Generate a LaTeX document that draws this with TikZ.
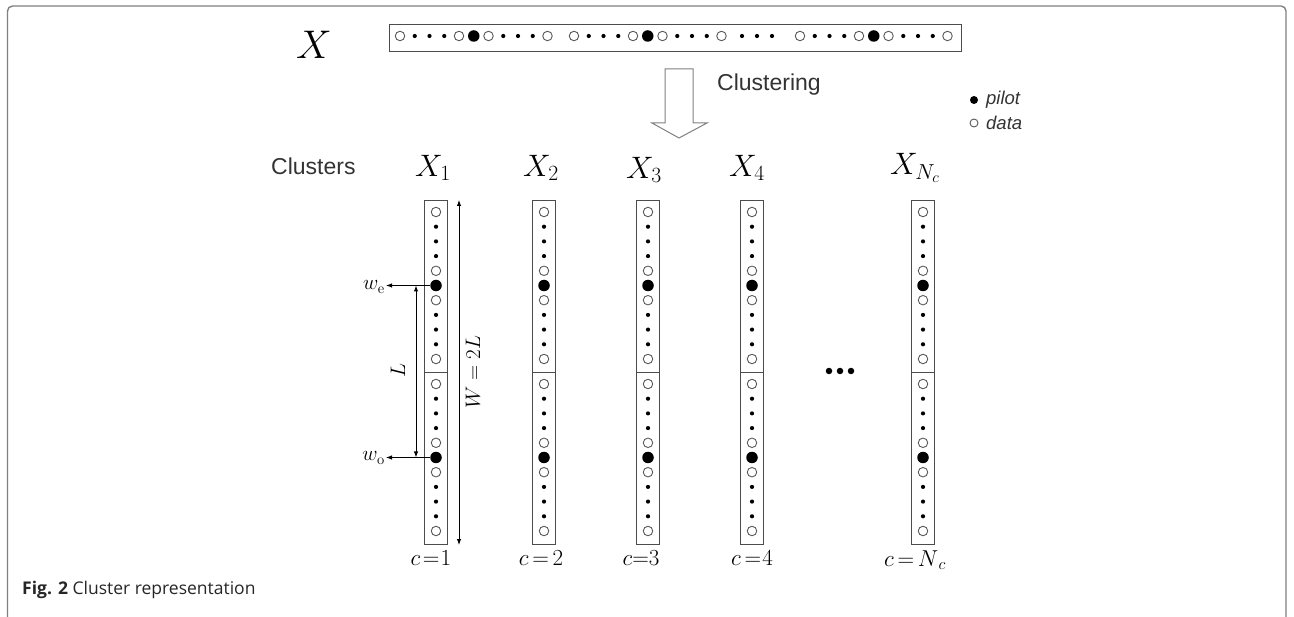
\RequirePackage{fix-cm}
\documentclass[tikz,border=0pt]{standalone}
\usepackage{fontspec}
\setsansfont{Liberation Sans}
\newfontfamily\capfont{Open Sans}
\usetikzlibrary{arrows.meta}
\definecolor{framegray}{HTML}{808080}
\definecolor{txtgray}{HTML}{333333}
\begin{document}
\begin{tikzpicture}[x=1pt,y=-1pt,
  sym-o/.style={circle,draw=black!65,line width=0.9pt,minimum size=9.5pt,inner sep=0pt},
  sym-p/.style={circle,fill=black,minimum size=11.5pt,inner sep=0pt},
  sym-d/.style={circle,fill=black,minimum size=4.2pt,inner sep=0pt},
  colbox/.style={draw=black!70,line width=1pt,minimum width=23pt,minimum height=343pt,inner sep=0pt},
  colline/.style={draw=black!70,line width=0.8pt},
  sanslbl/.style={font=\sffamily\fontsize{23}{27}\selectfont,text=txtgray,inner sep=0pt},
  leglbl/.style={font=\sffamily\itshape\fontsize{18.5}{22}\selectfont,text=txtgray,inner sep=0pt,anchor=west},
  xlbl/.style={font=\fontsize{31}{36}\selectfont,inner sep=0pt},
  clbl/.style={font=\fontsize{23}{27}\selectfont,inner sep=0pt},
  mlbl/.style={font=\fontsize{21}{24}\selectfont,inner sep=1pt},
  arr/.style={line width=1pt,-{Latex[length=6pt,width=4.5pt]}},
  dblarr/.style={line width=1pt,{Latex[length=6pt,width=4.5pt]}-{Latex[length=6pt,width=4.5pt]}}]
\useasboundingbox (0,0) rectangle (1294,617);
% frame
\draw[framegray,line width=1.4pt,rounded corners=5pt] (7.5,617) -- (7.5,6) -- (1286,6) -- (1286,617);
% big X and top bar
\node[font=\fontsize{40}{44}\selectfont,inner sep=0pt] (bigX) at (314,45) {$X$};
\node[draw=black!70,line width=1pt,minimum width=572pt,minimum height=27pt,inner sep=0pt] (bar) at (675,38.5) {};
\foreach \g/\s in {1/400,2/574,3/800} {
  \foreach \t [count=\i from 0] in {o,d,d,d,o,p,o,d,d,d,o}
    \node[sym-\t] (top\g-\i) at (\s+\i*14.75,36) {};
}
\foreach \k/\xx in {1/742,2/757,3/772}
  \node[sym-d] (topmid\k) at (\xx,36) {};
% clustering arrow
\draw[framegray,line width=1pt,line join=miter] (665,69) -- (693,69) -- (693,123) -- (707,123) -- (679,138) -- (652,123) -- (665,123) -- cycle;
\node[sanslbl,anchor=base west] (clustering) at (717,91) {Clustering};
% legend
\node[sym-p,minimum size=8pt] (legp) at (974,100) {};
\node[sym-o,minimum size=8pt] (lego) at (974,123) {};
\node[leglbl] (legpt) at (986,100) {pilot};
\node[leglbl] (legdt) at (986,123) {data};
% clusters label
\node[sanslbl,anchor=base west] (clusters) at (271,175) {Clusters};
% X labels
\node[xlbl] (X1) at (433,168) {$X_1$};
\node[xlbl] (X2) at (541,168) {$X_2$};
\node[xlbl] (X3) at (644,170) {$X_3$};
\node[xlbl] (X4) at (747,168) {$X_4$};
\node[xlbl] (X5) at (915,168) {$X_{N_c}$};
% columns
\foreach \c/\cx in {1/436,2/544,3/648,4/752,5/923} {
  \node[colbox] (col\c) at (\cx,372.5) {};
  \draw[colline] (col\c.west) -- (col\c.east);
  \foreach \h/\yy in {u/212,l/384} {
    \foreach \t [count=\i from 0] in {o,d,d,d,o,p,o,d,d,d,o}
      \node[sym-\t] (c\c\h\i) at (\cx,\yy+\i*14.7) {};
  }
}
% ellipsis
\foreach \k/\xx in {1/829,2/840,3/851}
  \node[circle,fill=black,minimum size=6.5pt,inner sep=0pt] (ell\k) at (\xx,371) {};
% bottom labels
\node[clbl] (cl1) at (431,558) {$c\mskip2mu{=}\mskip1mu 1$};
\node[clbl] (cl2) at (541,558) {$c\mskip3mu{=}\mskip3mu 2$};
\node[clbl] (cl3) at (641,558) {$c{=}3$};
\node[clbl] (cl4) at (752,558) {$c\mskip3mu{=}\mskip1mu 4$};
\node[clbl] (cl5) at (915,560) {$c\mskip3mu{=}\mskip3mu N_{\,c}$};
% w_e and w_o
\node[mlbl,anchor=east] (we) at (386,287) {$w_{\mathrm{e}}$};
\node[mlbl,anchor=east] (wo) at (386,458) {$w_{\mathrm{o}}$};
\draw[arr] (c1u5.west) -- (we.east |- c1u5.west);
\draw[arr] (c1l5.west) -- (wo.east |- c1l5.west);
% L arrow
\coordinate (Ltop) at (416,285.5);
\coordinate (Lbot) at (416,457.5);
\draw[dblarr] (Ltop) -- (Lbot);
\node[mlbl,rotate=90] (Llbl) at (398,371) {$L$};
% W arrow
\coordinate (Wtop) at (459,200);
\coordinate (Wbot) at (459,545);
\draw[dblarr] (Wtop) -- (Wbot);
\node[mlbl,rotate=90] (Wlbl) at (473,372) {$W = 2L$};
% caption
\node[font=\capfont\fontsize{17.5}{21}\selectfont,text=black!85,anchor=base west,inner sep=0pt] (caption) at (22,594) {\textbf{Fig. 2} Cluster representation};
\end{tikzpicture}
\end{document}
